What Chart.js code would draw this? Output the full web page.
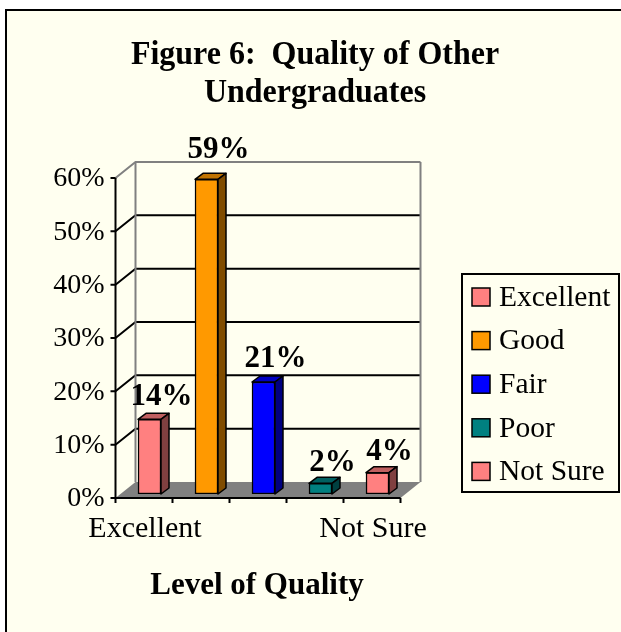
<!DOCTYPE html>
<html>
<head>
<meta charset="utf-8">
<script src="https://cdn.jsdelivr.net/npm/chart.js@4.4.0/dist/chart.umd.min.js"></script>
<style>
  html, body { margin: 0; padding: 0; background: #ffffff; overflow: hidden; }
  #wrap { width: 621px; height: 632px; }
</style>
</head>
<body>
<div id="wrap"><canvas id="chart" width="621" height="632"></canvas></div>
<script>
// values
const qualityLevels = ['Excellent', 'Good', 'Fair', 'Poor', 'Not Sure'];
const percentValues = [14, 59, 21, 2, 4];
const axisTicks = [0, 10, 20, 30, 40, 50, 60];
const shownCategoryLabels = ['Excellent', 'Not Sure'];
const titleLines = ['Figure 6:  Quality of Other', 'Undergraduates'];
const xAxisTitle = 'Level of Quality';

const frontColors = ['#FF8080', '#FF9900', '#0000FF', '#008080', '#FF8080'];
const topColors = ['#C06060', '#C07300', '#0000C0', '#006060', '#C06060'];
const sideColors = ['#804040', '#804C00', '#000080', '#004040', '#804040'];

const serif = '"Liberation Serif", "Times New Roman", serif';
// 3d look (pixels)
const wallDx = 20, wallDy = -16;   // floor / wall depth
const barDx = 8, barDy = -6;       // depth of one bar
const axisDx = -5.5, axisDy = 4;   // front axis sits a bit in front of the bars

const chart3d = {
  id: 'chart3d',
  beforeDraw(chart) {
    const ctx = chart.ctx;
    ctx.save();
    ctx.fillStyle = '#ffffff';
    ctx.fillRect(0, 0, chart.width, chart.height);
    ctx.fillStyle = '#FFFFF0';
    ctx.fillRect(6, 10, chart.width - 6, chart.height - 10);
    ctx.strokeStyle = '#000';
    ctx.lineWidth = 2;
    ctx.beginPath();
    ctx.moveTo(6, chart.height);
    ctx.lineTo(6, 10);
    ctx.lineTo(chart.width, 10);
    ctx.stroke();
    ctx.restore();
  },
  beforeDatasetsDraw(chart) {
    const { ctx, chartArea, scales: { x, y } } = chart;
    const x0 = chartArea.left + axisDx, x1 = chartArea.right + axisDx;
    const fy = v => y.getPixelForValue(v) + axisDy;
    const yMax = axisTicks[axisTicks.length - 1];
    ctx.save();

    // floor
    ctx.fillStyle = '#808080';
    ctx.beginPath();
    ctx.moveTo(x0, fy(0));
    ctx.lineTo(x1, fy(0));
    ctx.lineTo(x1 + wallDx, fy(0) + wallDy);
    ctx.lineTo(x0 + wallDx, fy(0) + wallDy);
    ctx.closePath();
    ctx.fill();

    // gridlines on side wall and back wall
    ctx.lineWidth = 2;
    axisTicks.forEach(v => {
      if (v === 0) return;
      ctx.strokeStyle = v === yMax ? '#808080' : '#000';
      ctx.beginPath();
      ctx.moveTo(x0, fy(v));
      ctx.lineTo(x0 + wallDx, fy(v) + wallDy);
      ctx.lineTo(x1 + wallDx, fy(v) + wallDy);
      ctx.stroke();
    });
    ctx.strokeStyle = '#808080';
    ctx.beginPath();
    ctx.moveTo(x0 + wallDx, fy(yMax) + wallDy);
    ctx.lineTo(x0 + wallDx, fy(0) + wallDy);
    ctx.moveTo(x1 + wallDx, fy(yMax) + wallDy);
    ctx.lineTo(x1 + wallDx, fy(0) + wallDy);
    ctx.stroke();

    // front axes + ticks
    ctx.strokeStyle = '#000';
    ctx.beginPath();
    ctx.moveTo(x0, fy(yMax));
    ctx.lineTo(x0, fy(0));
    ctx.lineTo(x1, fy(0));
    axisTicks.forEach(v => {
      ctx.moveTo(x0 - 5, fy(v));
      ctx.lineTo(x0, fy(v));
    });
    const catW = x.getPixelForValue(1) - x.getPixelForValue(0);
    for (let i = 0; i <= qualityLevels.length; i++) {
      const bx = x.getPixelForValue(0) - catW / 2 + i * catW + axisDx;
      ctx.moveTo(bx, fy(0));
      ctx.lineTo(bx, fy(0) + 5);
    }
    ctx.stroke();

    // tick labels
    ctx.fillStyle = '#000';
    ctx.font = '28px ' + serif;
    ctx.textAlign = 'right';
    ctx.textBaseline = 'middle';
    axisTicks.forEach(v => ctx.fillText(v + '%', x0 - 11, fy(v) + 1));
    ctx.font = '30px ' + serif;
    ctx.textAlign = 'center';
    ctx.textBaseline = 'alphabetic';
    qualityLevels.forEach((lab, i) => {
      if (!shownCategoryLabels.includes(lab)) return;
      ctx.fillText(lab, x.getPixelForValue(i) + axisDx + 1, fy(0) + 39);
    });
    ctx.restore();
  },
  afterDatasetsDraw(chart) {
    const ctx = chart.ctx;
    const meta = chart.getDatasetMeta(0);
    ctx.save();
    ctx.strokeStyle = '#000';
    ctx.lineWidth = 1.5;
    ctx.lineJoin = 'round';
    meta.data.forEach((bar, i) => {
      const l = bar.x - bar.width / 2, r = bar.x + bar.width / 2;
      const t = bar.y, b = bar.base;
      // top face
      ctx.fillStyle = topColors[i];
      ctx.beginPath();
      ctx.moveTo(l, t);
      ctx.lineTo(l + barDx, t + barDy);
      ctx.lineTo(r + barDx, t + barDy);
      ctx.lineTo(r, t);
      ctx.closePath();
      ctx.fill();
      ctx.stroke();
      // side face
      ctx.fillStyle = sideColors[i];
      ctx.beginPath();
      ctx.moveTo(r, t);
      ctx.lineTo(r + barDx, t + barDy);
      ctx.lineTo(r + barDx, b + barDy);
      ctx.lineTo(r, b);
      ctx.closePath();
      ctx.fill();
      ctx.stroke();
    });

    // value labels (taller bars get their label pushed up a little, like the perspective original)
    ctx.fillStyle = '#000';
    ctx.font = 'bold 31px ' + serif;
    ctx.textAlign = 'center';
    ctx.textBaseline = 'alphabetic';
    meta.data.forEach((bar, i) => {
      const lift = 12 + 0.03 * (bar.base - bar.y);
      ctx.fillText(percentValues[i] + '%', bar.x + 12, bar.y - lift);
    });
    ctx.restore();
  },
  afterDraw(chart) {
    const ctx = chart.ctx;
    ctx.save();
    ctx.fillStyle = '#000';
    ctx.textAlign = 'center';
    ctx.textBaseline = 'alphabetic';
    // title glyphs are a touch taller than wide in the original
    const stretch = 1.08;
    ctx.font = 'bold 32px ' + serif;
    ctx.save();
    ctx.scale(1, stretch);
    ctx.fillText(titleLines[0], 315, 64 / stretch);
    ctx.fillText(titleLines[1], 315, 102 / stretch);
    ctx.restore();
    ctx.font = 'bold 31px ' + serif;
    ctx.fillText(xAxisTitle, 257, 594);

    // legend box
    ctx.strokeStyle = '#000';
    ctx.lineWidth = 2;
    ctx.strokeRect(462, 274, 157, 218);
    ctx.font = '29.5px ' + serif;
    ctx.textAlign = 'left';
    ctx.textBaseline = 'middle';
    ctx.lineWidth = 1.5;
    qualityLevels.forEach((lab, i) => {
      const cy = 297 + i * 43.6;
      ctx.fillStyle = frontColors[i];
      ctx.fillRect(472, cy - 9, 18, 18);
      ctx.strokeRect(472, cy - 9, 18, 18);
      ctx.fillStyle = '#000';
      ctx.fillText(lab, 499, cy + 1);
    });
    ctx.restore();
  }
};

new Chart(document.getElementById('chart'), {
  type: 'bar',
  data: {
    labels: qualityLevels,
    datasets: [{
      data: percentValues,
      backgroundColor: frontColors,
      borderColor: '#000',
      borderWidth: 1.5,
      borderSkipped: false,
      barThickness: 23
    }]
  },
  options: {
    responsive: false,
    animation: false,
    layout: { padding: { left: 121, right: 215, top: 174, bottom: 138 } },
    scales: {
      x: { display: false },
      y: { display: false, min: 0, max: 60 }
    },
    plugins: { legend: { display: false }, tooltip: { enabled: false } }
  },
  plugins: [chart3d]
});
</script>
</body>
</html>
